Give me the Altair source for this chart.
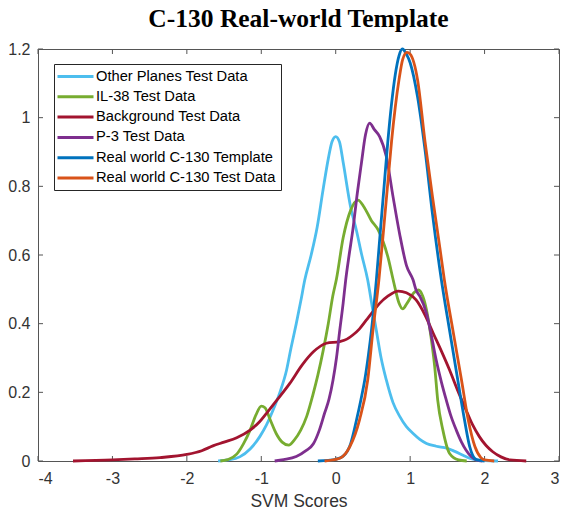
import altair as alt
import pandas as pd

chart_title = "C-130 Real-world Template"
x_title = "SVM Scores"

series_names = ["Other Planes Test Data", "IL-38 Test Data", "Background Test Data",
                "P-3 Test Data", "Real world C-130 Template", "Real world C-130 Test Data"]
series_colors = ["#4DBEEE", "#77AC30", "#A2142F", "#7E2F8E", "#0072BD", "#D95319"]

other_x = [-1.58, -1.45, -1.29, -1.15, -1.02, -0.93, -0.84, -0.75, -0.66, -0.6, -0.53, -0.47,
           -0.416, -0.33, -0.25, -0.17, -0.1, -0.05, 0.0, 0.05, 0.1, 0.2, 0.28, 0.35, 0.43,
           0.49, 0.546, 0.61, 0.68, 0.77, 0.86, 0.95, 1.04, 1.13, 1.22, 1.35, 1.5, 1.6, 1.71,
           1.8, 1.89, 2.0, 2.18]
other_y = [0.0, 0.003, 0.012, 0.035, 0.071, 0.105, 0.149, 0.2, 0.265, 0.33, 0.40, 0.465,
           0.527, 0.60, 0.68, 0.79, 0.88, 0.93, 0.945, 0.93, 0.87, 0.74, 0.67, 0.60, 0.527,
           0.45, 0.38, 0.30, 0.236, 0.17, 0.13, 0.10, 0.08, 0.063, 0.051, 0.043, 0.037, 0.028,
           0.017, 0.008, 0.003, 0.001, 0.0]

il38_x = [-1.55, -1.45, -1.33, -1.24, -1.15, -1.07, -1.0, -0.95, -0.88, -0.8, -0.72, -0.63,
          -0.56, -0.47, -0.39, -0.31, -0.24, -0.17, -0.10, -0.04, 0.01, 0.1, 0.2, 0.30, 0.38,
          0.48, 0.57, 0.70, 0.78, 0.85, 0.90, 0.96, 1.05, 1.11, 1.17, 1.22, 1.28, 1.33, 1.37,
          1.44, 1.53, 1.65, 1.76]
il38_y = [0.0, 0.004, 0.02, 0.05, 0.09, 0.135, 0.16, 0.155, 0.12, 0.08, 0.055, 0.046,
          0.06, 0.09, 0.13, 0.19, 0.25, 0.32, 0.40, 0.48, 0.53, 0.65, 0.73, 0.76, 0.74,
          0.70, 0.673, 0.595, 0.52, 0.46, 0.443, 0.46, 0.49, 0.498, 0.48, 0.44, 0.362, 0.275,
          0.178, 0.09, 0.022, 0.003, 0.0]

bg_x = [-3.53, -3.0, -2.7, -2.36, -2.0, -1.8, -1.65, -1.5, -1.33, -1.15, -1.02, -0.93, -0.78,
        -0.617, -0.45, -0.30, -0.125, 0.054, 0.15, 0.23, 0.32, 0.41, 0.5, 0.59, 0.7, 0.84,
        0.95, 1.08, 1.2, 1.31, 1.42, 1.53, 1.64, 1.75, 1.84, 1.93, 2.02, 2.11, 2.22, 2.34, 2.56]
bg_y = [0.0, 0.003, 0.006, 0.01, 0.019, 0.03, 0.044, 0.055, 0.068, 0.09, 0.115, 0.139, 0.18,
        0.226, 0.28, 0.318, 0.343, 0.348, 0.355, 0.367, 0.385, 0.41, 0.435, 0.459, 0.48, 0.495,
        0.49, 0.469, 0.425, 0.372, 0.32, 0.265, 0.205, 0.149, 0.105, 0.071, 0.045, 0.027, 0.012,
        0.003, 0.0]

p3_x = [-0.82, -0.7, -0.53, -0.4, -0.30, -0.22, -0.15, -0.09, -0.036, 0.01, 0.054, 0.1, 0.134,
        0.18, 0.23, 0.29, 0.345, 0.4, 0.456, 0.52, 0.59, 0.68, 0.77, 0.86, 0.95, 1.04, 1.08,
        1.13, 1.22, 1.29, 1.35, 1.42, 1.485, 1.55, 1.62, 1.69, 1.75, 1.82, 1.89, 1.97]
p3_y = [0.0, 0.004, 0.013, 0.03, 0.05, 0.09, 0.139, 0.18, 0.236, 0.30, 0.38, 0.46, 0.527,
        0.6, 0.673, 0.78, 0.867, 0.95, 0.984, 0.965, 0.945, 0.887, 0.77, 0.66, 0.57, 0.527, 0.498,
        0.48, 0.43, 0.36, 0.294, 0.23, 0.178, 0.13, 0.09, 0.055, 0.032, 0.013, 0.003, 0.0]

tmpl_x = [-0.24, -0.1, 0.0, 0.1, 0.2, 0.28, 0.34, 0.39, 0.44, 0.48, 0.546, 0.6, 0.65, 0.7,
          0.75, 0.8, 0.85, 0.895, 0.95, 1.0, 1.1, 1.2, 1.3, 1.42, 1.53, 1.64, 1.73, 1.80, 1.89, 2.0]
tmpl_y = [0.0, 0.002, 0.005, 0.014, 0.05, 0.12, 0.18, 0.236, 0.31, 0.38, 0.527, 0.67, 0.80,
          0.93, 1.04, 1.125, 1.18, 1.2, 1.185, 1.16, 1.06, 0.906, 0.72, 0.527, 0.38, 0.236, 0.12,
          0.042, 0.004, 0.0]

test_x = [-0.15, 0.054, 0.19, 0.32, 0.43, 0.50, 0.58, 0.65, 0.7, 0.75, 0.8, 0.85, 0.9, 0.957,
          1.0, 1.1, 1.2, 1.3, 1.4, 1.46, 1.575, 1.69, 1.78, 1.87, 1.95, 2.0, 2.13]
test_y = [0.0, 0.008, 0.042, 0.12, 0.236, 0.38, 0.527, 0.69, 0.81, 0.93, 1.03, 1.11, 1.17, 1.19,
          1.185, 1.11, 0.93, 0.77, 0.62, 0.527, 0.38, 0.236, 0.12, 0.042, 0.01, 0.003, 0.0]

x_ticks = [-4, -3, -2, -1, 0, 1, 2, 3]
y_ticks = [0, 0.2, 0.4, 0.6, 0.8, 1.0, 1.2]

all_x = [other_x, il38_x, bg_x, p3_x, tmpl_x, test_x]
all_y = [other_y, il38_y, bg_y, p3_y, tmpl_y, test_y]

rows = []
for name, xs, ys in zip(series_names, all_x, all_y):
    for i, (a, b) in enumerate(zip(xs, ys)):
        rows.append({"series": name, "x": a, "y": b, "idx": i})
df = pd.DataFrame(rows)

W, H = 521, 412
FONT = "Liberation Sans"
FRAME = "#555"

X = alt.X("x:Q", scale=alt.Scale(domain=[-4, 3], nice=False, zero=False),
          axis=alt.Axis(values=x_ticks, labelExpr="'' + datum.value", title=x_title,
                        ticks=False, domain=False, grid=False, labelPadding=9,
                        titlePadding=6))
Y = alt.Y("y:Q", scale=alt.Scale(domain=[0, 1.2], nice=False, zero=False),
          axis=alt.Axis(values=y_ticks, format="~g", title=None, ticks=False, domain=False,
                        grid=False, labelPadding=8))
C = alt.Color("series:N", scale=alt.Scale(domain=series_names, range=series_colors),
              legend=alt.Legend(title=None, orient="none", legendX=16, legendY=15,
                                symbolType="M-3,0L3,0", symbolSize=144, symbolStrokeWidth=3,
                                symbolOffset=9, labelOffset=13,
                                labelFont=FONT, labelFontSize=14.7, labelColor="black",
                                strokeColor="#262626", fillColor="white", padding=5,
                                rowPadding=4.3, cornerRadius=0, labelLimit=400))

layers = []
for name in series_names:
    layers.append(
        alt.Chart(df).transform_filter(alt.datum.series == name)
        .mark_line(strokeWidth=2.8, interpolate="monotone")
        .encode(x=X, y=Y, color=C, order=alt.Order("idx:Q"))
    )

xt = pd.DataFrame({"x": x_ticks})
yt = pd.DataFrame({"y": y_ticks})
bottom = alt.Chart(xt).mark_rule(color=FRAME, strokeWidth=1).encode(
    x=X, y=alt.value(H), y2=alt.value(H - 5))
top = alt.Chart(xt).mark_rule(color=FRAME, strokeWidth=1).encode(
    x=X, y=alt.value(0), y2=alt.value(5))
left = alt.Chart(yt).mark_rule(color=FRAME, strokeWidth=1).encode(
    y=Y, x=alt.value(0), x2=alt.value(5))
right = alt.Chart(yt).mark_rule(color=FRAME, strokeWidth=1).encode(
    y=Y, x=alt.value(W - 5), x2=alt.value(W))

title_mark = alt.Chart(pd.DataFrame({"t": [chart_title]})).mark_text(
    font="Liberation Serif", fontSize=25.5, fontWeight="bold", color="black",
    align="center", baseline="alphabetic"
).encode(text="t:N", x=alt.value(W / 2), y=alt.value(-22))

chart = alt.layer(bottom, top, left, right, *layers, title_mark).properties(
    width=W, height=H,
    autosize=alt.AutoSizeParams(type="none"),
    padding={"left": 38, "top": 49, "right": 4, "bottom": 58},
).configure_view(stroke=FRAME, strokeWidth=1).configure_axis(
    labelFont=FONT, labelFontSize=16, labelColor="#333", titleFont=FONT, titleFontSize=17.5,
    titleColor="#333", titleFontWeight="normal"
)

chart.save("out.html", embed_options={"renderer": "svg", "actions": False})
